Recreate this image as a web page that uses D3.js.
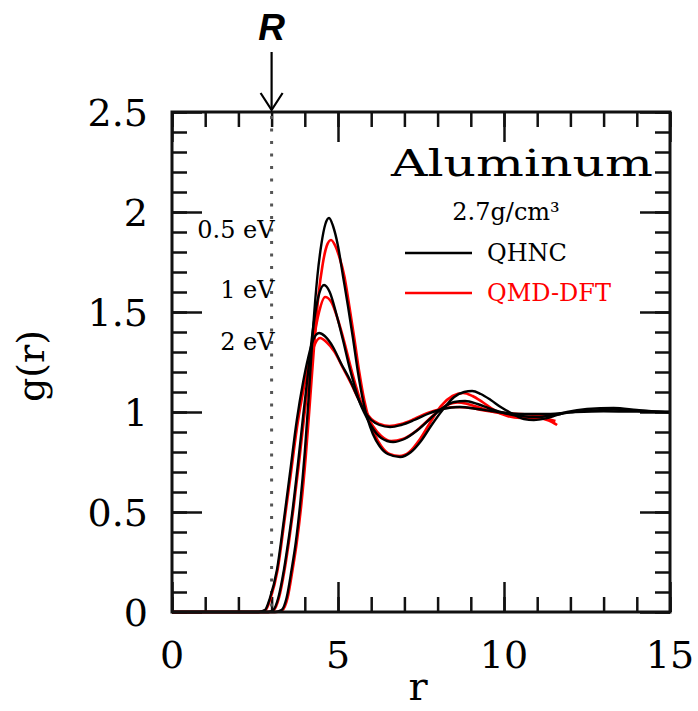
<!DOCTYPE html>
<html>
<head>
<meta charset="utf-8">
<script src="https://cdn.jsdelivr.net/npm/d3@7"></script>
<style>
  body { margin: 0; background: #fff; }
  text { font-family: "DejaVu Serif", "Liberation Serif", serif; }
</style>
</head>
<body>
<svg width="698" height="711"></svg>
<script>
//****************************************************************************************
// Dati: coppie [r, g(r)] per ogni temperatura
//****************************************************************************************
// QHNC (nero)
var qhnc05 = [[0,0],[3.1,0],[3.3,0.01],[3.45,0.07],[3.6,0.21],[3.73,0.35],[3.86,0.54],[4.0,0.8],[4.12,1.08],[4.25,1.42],[4.38,1.68],[4.5,1.84],[4.62,1.94],[4.73,1.97],[4.85,1.93],[5.0,1.83],[5.15,1.68],[5.3,1.53],[5.45,1.37],[5.6,1.2],[5.75,1.06],[5.9,0.96],[6.05,0.89],[6.25,0.83],[6.5,0.79],[6.87,0.775],[7.2,0.8],[7.5,0.855],[7.8,0.93],[8.15,1.01],[8.5,1.075],[8.8,1.1],[9.04,1.105],[9.3,1.09],[9.6,1.06],[9.9,1.025],[10.27,0.99],[10.6,0.965],[10.9,0.96],[11.3,0.97],[11.9,1.0],[12.5,1.015],[13.3,1.02],[14.0,1.01],[14.5,1.003],[15,1.0]];
var qhnc1 = [[0,0],[2.9,0],[3.05,0.01],[3.2,0.07],[3.37,0.21],[3.5,0.35],[3.64,0.52],[3.8,0.75],[3.95,0.98],[4.1,1.2],[4.25,1.42],[4.4,1.57],[4.58,1.635],[4.75,1.6],[4.95,1.49],[5.15,1.36],[5.35,1.22],[5.5,1.13],[5.65,1.05],[5.81,0.99],[6.0,0.93],[6.3,0.87],[6.66,0.85],[7.0,0.865],[7.4,0.91],[7.8,0.97],[8.15,1.02],[8.5,1.05],[8.83,1.055],[9.2,1.04],[9.6,1.015],[10.0,0.995],[10.5,0.98],[11.0,0.975],[11.5,0.985],[12.0,0.998],[12.7,1.008],[13.3,1.012],[14.0,1.006],[15,1.0]];
var qhnc2 = [[0,0],[2.6,0],[2.8,0.01],[2.95,0.07],[3.16,0.21],[3.37,0.46],[3.55,0.69],[3.76,0.96],[3.95,1.15],[4.1,1.27],[4.25,1.36],[4.43,1.395],[4.6,1.38],[4.85,1.325],[5.1,1.24],[5.36,1.16],[5.6,1.07],[5.81,1.0],[6.0,0.96],[6.25,0.935],[6.57,0.925],[6.9,0.935],[7.3,0.96],[7.7,0.99],[8.15,1.015],[8.67,1.025],[9.2,1.015],[9.8,1.0],[10.5,0.99],[11.2,0.99],[12.0,0.998],[13.0,1.004],[14.0,1.002],[15,1.0]];

// QMD-DFT (rosso)
var qmd05 = [[0,0],[3.15,0],[3.33,0.01],[3.48,0.07],[3.63,0.21],[3.76,0.35],[3.89,0.53],[4.03,0.78],[4.15,1.04],[4.28,1.33],[4.41,1.58],[4.54,1.74],[4.66,1.83],[4.79,1.86],[4.92,1.83],[5.05,1.77],[5.19,1.68],[5.34,1.53],[5.49,1.37],[5.64,1.2],[5.79,1.06],[5.94,0.96],[6.1,0.89],[6.3,0.83],[6.55,0.79],[6.85,0.78],[7.15,0.8],[7.45,0.86],[7.75,0.94],[8.1,1.03],[8.45,1.08],[8.77,1.095],[9.05,1.08],[9.35,1.05],[9.7,1.01],[10.1,0.98],[10.5,0.97],[10.9,0.975],[11.2,0.965],[11.45,0.95],[11.6,0.935]];
var qmd1 = [[0,0],[2.92,0],[3.07,0.01],[3.22,0.07],[3.39,0.21],[3.52,0.35],[3.66,0.52],[3.82,0.74],[3.97,0.96],[4.12,1.17],[4.27,1.36],[4.43,1.5],[4.61,1.575],[4.8,1.55],[5.0,1.46],[5.19,1.35],[5.39,1.22],[5.54,1.13],[5.69,1.05],[5.85,0.99],[6.05,0.93],[6.3,0.88],[6.6,0.855],[6.95,0.865],[7.35,0.905],[7.75,0.965],[8.1,1.015],[8.35,1.04],[8.6,1.048],[8.9,1.04],[9.2,1.025],[9.6,1.005],[10.0,0.99],[10.5,0.975],[11.0,0.97],[11.3,0.965],[11.55,0.955]];
var qmd2 = [[0,0],[2.62,0],[2.82,0.01],[2.97,0.07],[3.18,0.21],[3.39,0.46],[3.57,0.68],[3.78,0.94],[3.97,1.12],[4.12,1.24],[4.28,1.33],[4.46,1.37],[4.65,1.35],[4.9,1.3],[5.15,1.22],[5.4,1.14],[5.63,1.06],[5.84,1.0],[6.0,0.965],[6.25,0.94],[6.55,0.93],[6.9,0.94],[7.3,0.965],[7.7,0.995],[8.1,1.015],[8.55,1.025],[9.0,1.02],[9.5,1.005],[10.0,0.995],[10.5,0.99],[11.0,0.985],[11.5,0.98]];

// Etichette delle temperature e legenda
var tempLabels = ["0.5 eV", "1 eV", "2 eV"];
var legendNames = ["QHNC", "QMD-DFT"];
var legendColors = ["#000", "#f00"];
var xMajor = [0, 5, 10, 15];
var yMajor = [0, 0.5, 1, 1.5, 2, 2.5];
var rMark = 3;

//****************************************************************************************
// Impostazione dell'area del grafico
//****************************************************************************************
var svg = d3.select("svg"),
    margin = {top: 112, right: 28, bottom: 99, left: 172},
    width = +svg.attr("width") - margin.left - margin.right,
    height = +svg.attr("height") - margin.top - margin.bottom;

var x = d3.scaleLinear().domain([0, 15]).range([0, width]),
    y = d3.scaleLinear().domain([0, 2.5]).range([height, 0]);

var g = svg.append("g")
    .attr("transform", "translate(" + margin.left + "," + margin.top + ")");

// Tacche minori e maggiori, rivolte verso l'interno, sui quattro lati
function tacche(axis, values, size, transform) {
  var a = g.append("g")
      .attr("transform", transform)
      .call(axis.tickValues(values).tickSize(size).tickFormat(""));
  a.select(".domain").remove();
  a.selectAll("line").attr("stroke", "#111").attr("stroke-width", 2.5);
  return a;
}
var xMinor = d3.range(0, 15.01, 1), yMinor = d3.range(0, 2.501, 0.1);
tacche(d3.axisBottom(x), xMinor, -15, "translate(0," + height + ")");
tacche(d3.axisBottom(x), xMajor, -30, "translate(0," + height + ")");
tacche(d3.axisTop(x), xMinor, -15, "translate(0,0)");
tacche(d3.axisTop(x), xMajor, -30, "translate(0,0)");
tacche(d3.axisLeft(y), yMinor, -15, "translate(0,0)");
tacche(d3.axisLeft(y), yMajor, -30, "translate(0,0)");
tacche(d3.axisRight(y), yMinor, -15, "translate(" + width + ",0)");
tacche(d3.axisRight(y), yMajor, -30, "translate(" + width + ",0)");

// Etichette numeriche degli assi
g.selectAll(".xlab").data(xMajor).enter().append("text")
    .attr("class", "xlab")
    .attr("x", function(d) { return x(d); })
    .attr("y", height + 56)
    .attr("text-anchor", "middle")
    .style("font-size", "38px")
    .text(function(d) { return d; });

g.selectAll(".ylab").data(yMajor).enter().append("text")
    .attr("class", "ylab")
    .attr("x", -24)
    .attr("y", function(d) { return y(d) + 14; })
    .attr("text-anchor", "end")
    .style("font-size", "38px")
    .text(function(d) { return d; });

// Titoli degli assi
g.append("text")
    .attr("x", width / 2 - 3)
    .attr("y", height + 88)
    .attr("text-anchor", "middle")
    .style("font-size", "40px")
    .text("r");

g.append("text")
    .attr("transform", "translate(" + (-128) + "," + (y(1.23)) + ") rotate(-90)")
    .attr("text-anchor", "middle")
    .style("font-size", "38px")
    .text("g(r)");

// Linea tratteggiata verticale in R
g.append("line")
    .attr("x1", x(rMark)).attr("x2", x(rMark))
    .attr("y1", 4).attr("y2", height)
    .attr("stroke", "#555")
    .attr("stroke-width", 3)
    .attr("stroke-dasharray", "3,9.5");

//****************************************************************************************
// Curve g(r): prima le rosse, poi le nere
//****************************************************************************************
var line = d3.line()
    .x(function(d) { return x(d[0]); })
    .y(function(d) { return y(d[1]); })
    .curve(d3.curveMonotoneX);

[qmd05, qmd1, qmd2].forEach(function(s) {
  g.append("path").datum(s)
      .attr("fill", "none").attr("stroke", "#f00").attr("stroke-width", 2.6)
      .attr("d", line);
});
[qhnc05, qhnc1, qhnc2].forEach(function(s) {
  g.append("path").datum(s)
      .attr("fill", "none").attr("stroke", "#000").attr("stroke-width", 2.4)
      .attr("d", line);
});

// Cornice
g.append("rect")
    .attr("width", width).attr("height", height)
    .attr("fill", "none").attr("stroke", "#111").attr("stroke-width", 3);

// Etichette delle temperature
var tempY = [238, 298, 350];
g.selectAll(".temp").data(tempLabels).enter().append("text")
    .attr("class", "temp")
    .attr("x", x(rMark) + 3)
    .attr("y", function(d, i) { return tempY[i] - margin.top; })
    .attr("text-anchor", "end")
    .style("font-size", "24px")
    .text(function(d) { return d; });

// Titolo e legenda
g.append("text")
    .attr("x", 522 - margin.left)
    .attr("y", 176 - margin.top)
    .attr("text-anchor", "middle")
    .attr("textLength", 262)
    .attr("lengthAdjust", "spacingAndGlyphs")
    .style("font-size", "38px")
    .text("Aluminum");

g.append("text")
    .attr("x", 506 - margin.left)
    .attr("y", 220 - margin.top)
    .attr("text-anchor", "middle")
    .style("font-size", "24px")
    .text("2.7g/cm³");

legendNames.forEach(function(n, i) {
  var ly = 253 + i * 40 - margin.top;
  g.append("line")
      .attr("x1", 405 - margin.left).attr("x2", 472 - margin.left)
      .attr("y1", ly).attr("y2", ly)
      .attr("stroke", legendColors[i]).attr("stroke-width", 2.4);
  g.append("text")
      .attr("x", 487 - margin.left)
      .attr("y", ly + 8)
      .attr("fill", legendColors[i])
      .style("font-size", "24px")
      .text(n);
});

// Freccia con la lettera R sopra il grafico
var xr = margin.left + x(rMark);
svg.append("line")
    .attr("x1", xr).attr("x2", xr).attr("y1", 52).attr("y2", 110)
    .attr("stroke", "#000").attr("stroke-width", 2.2);
svg.append("path")
    .attr("d", "M" + (xr - 11) + ",93 L" + xr + ",110 L" + (xr + 11) + ",93")
    .attr("fill", "none").attr("stroke", "#000").attr("stroke-width", 2.2);
svg.append("text")
    .attr("x", xr)
    .attr("y", 40)
    .attr("text-anchor", "middle")
    .style("font-family", "'Liberation Sans', Arial, sans-serif")
    .style("font-weight", "bold")
    .style("font-style", "italic")
    .style("font-size", "37px")
    .text("R");
</script>
</body>
</html>
